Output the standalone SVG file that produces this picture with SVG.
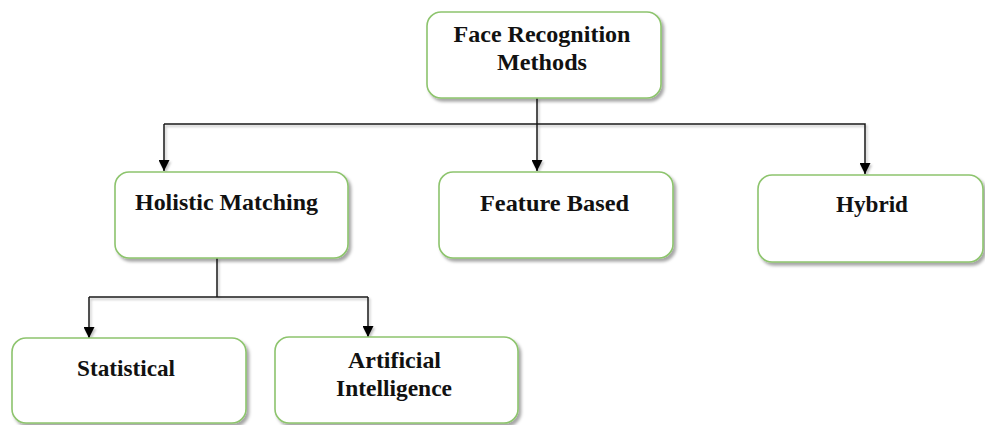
<svg xmlns="http://www.w3.org/2000/svg" width="985" height="425" viewBox="0 0 985 425">
  <defs>
    <filter id="shadow" x="-10%" y="-10%" width="130%" height="140%">
      <feDropShadow dx="2.5" dy="3" stdDeviation="1.6" flood-color="#000" flood-opacity="0.35"/>
    </filter>
    <filter id="lineShadow" x="-5%" y="-5%" width="110%" height="120%">
      <feDropShadow dx="1.5" dy="2" stdDeviation="1.2" flood-color="#000" flood-opacity="0.25"/>
    </filter>
    <marker id="arrow" viewBox="0 0 10 10" refX="10" refY="5" markerWidth="11" markerHeight="11" markerUnits="userSpaceOnUse" orient="auto">
      <path d="M0,0 L10,5 L0,10 Z" fill="#000"/>
    </marker>
  </defs>
  <style>
    .box { fill: #fff; stroke: #8dc46d; stroke-width: 1.6; filter: url(#shadow); }
    .label { font-family: "Liberation Serif", "Times New Roman", serif; font-weight: bold; font-size: 22.5px; fill: #111; text-anchor: middle; }
    .conn { fill: none; stroke: #1a1a1a; stroke-width: 1.5; }
  </style>

  <rect width="985" height="425" fill="#fff"/>

  <!-- connectors -->
  <g id="connectors" filter="url(#lineShadow)">
    <line class="conn" x1="537" y1="98" x2="537" y2="171" marker-end="url(#arrow)"/>
    <polyline class="conn" points="164,124 865,124 865,174" marker-end="url(#arrow)"/>
    <line class="conn" x1="164" y1="124" x2="164" y2="171" marker-end="url(#arrow)"/>
    <line class="conn" x1="217" y1="258" x2="217" y2="297"/>
    <line class="conn" x1="89" y1="297" x2="368" y2="297"/>
    <line class="conn" x1="89" y1="297" x2="89" y2="338" marker-end="url(#arrow)"/>
    <line class="conn" x1="368" y1="297" x2="368" y2="337" marker-end="url(#arrow)"/>
  </g>

  <!-- root -->
  <g id="node-face-recognition">
    <rect class="box" x="427" y="12" width="234" height="86" rx="14"/>
    <text class="label" x="542" y="42" textLength="177" lengthAdjust="spacingAndGlyphs">Face Recognition</text>
    <text class="label" x="542" y="70" textLength="90" lengthAdjust="spacingAndGlyphs">Methods</text>
  </g>

  <g id="node-holistic">
    <rect class="box" x="115" y="172" width="233" height="86" rx="14"/>
    <text class="label" x="226.5" y="210" textLength="183" lengthAdjust="spacingAndGlyphs">Holistic  Matching</text>
  </g>

  <g id="node-feature">
    <rect class="box" x="439" y="172" width="234" height="86" rx="14"/>
    <text class="label" x="554.5" y="211" textLength="149" lengthAdjust="spacingAndGlyphs">Feature Based</text>
  </g>

  <g id="node-hybrid">
    <rect class="box" x="758" y="175" width="225" height="87" rx="14"/>
    <text class="label" x="872" y="212" textLength="72" lengthAdjust="spacingAndGlyphs">Hybrid</text>
  </g>

  <g id="node-statistical">
    <rect class="box" x="12" y="338" width="234" height="85" rx="14"/>
    <text class="label" x="126" y="376" textLength="98" lengthAdjust="spacingAndGlyphs">Statistical</text>
  </g>

  <g id="node-ai">
    <rect class="box" x="275" y="337" width="243" height="86" rx="14"/>
    <text class="label" x="394.5" y="368" textLength="93" lengthAdjust="spacingAndGlyphs">Artificial</text>
    <text class="label" x="394" y="396" textLength="116" lengthAdjust="spacingAndGlyphs">Intelligence</text>
  </g>
</svg>
